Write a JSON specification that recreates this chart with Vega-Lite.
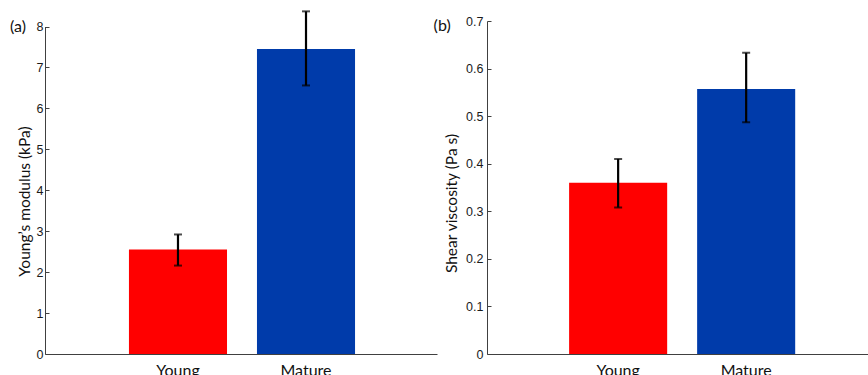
{
  "$schema": "https://vega.github.io/schema/vega-lite/v6.json",
  "background": "white",
  "padding": {"left": 10, "top": 10, "right": 0, "bottom": 0},
  "bounds": "flush",
  "spacing": 50,
  "config": {"view": {"stroke": null}},
  "datasets": {
    "a": [
      {"group": "Young", "value": 2.55, "lo": 2.16, "hi": 2.92},
      {"group": "Mature", "value": 7.45, "lo": 6.56, "hi": 8.37}
    ],
    "b": [
      {"group": "Young", "value": 0.36, "lo": 0.308, "hi": 0.41},
      {"group": "Mature", "value": 0.557, "lo": 0.487, "hi": 0.633}
    ]
  },
  "hconcat": [
    {
      "width": 392,
      "height": 333,
      "data": {"name": "a"},
      "title": {"text": "(a)", "anchor": "start", "frame": "bounds", "offset": 0, "dy": 25, "dx": -7, "font": "Lato", "fontSize": 16, "fontWeight": "normal", "color": "#111111"},
      "encoding": {
        "x": {
          "field": "group", "type": "nominal", "sort": ["Young", "Mature"],
          "scale": {"paddingInner": 0.234, "paddingOuter": 0.648, "align": 0.506},
          "axis": {"title": null, "ticks": false, "labelAngle": 0, "labelFont": "Lato", "labelFontSize": 16, "labelColor": "#111111", "labelPadding": 8, "domainColor": "#404040", "domainWidth": 1}
        }
      },
      "layer": [
        {
          "mark": {"type": "bar"},
          "encoding": {
            "y": {
              "field": "value", "type": "quantitative",
              "scale": {"domain": [0, 8], "range": [333, 5.5], "nice": false},
              "axis": {"title": "Young’s modulus (kPa)", "values": [0, 1, 2, 3, 4, 5, 6, 7, 8], "grid": false, "tickSize": -4, "labelPadding": 6, "domainColor": "#404040", "tickColor": "#404040", "labelFont": "Liberation Sans", "labelFontSize": 12.5, "labelColor": "#1a1a1a", "titleFont": "Lato", "titleFontSize": 15.5, "titleFontWeight": "normal", "titleColor": "#111111", "titlePadding": 4, "titleY": 180}
            },
            "color": {"field": "group", "type": "nominal", "scale": {"domain": ["Young", "Mature"], "range": ["#FF0000", "#003BAA"]}, "legend": null}
          }
        },
        {
          "mark": {"type": "errorbar", "color": "black", "ticks": {"size": 8, "thickness": 2, "color": "black"}, "rule": {"strokeWidth": 2.2}},
          "encoding": {
            "y": {"field": "lo", "type": "quantitative", "title": "Young’s modulus (kPa)"},
            "y2": {"field": "hi"}
          }
        }
      ]
    },
    {
      "width": 381,
      "height": 333,
      "data": {"name": "b"},
      "title": {"text": "(b)", "anchor": "start", "frame": "bounds", "offset": 0, "dy": 19, "dx": -11, "font": "Lato", "fontSize": 16, "fontWeight": "normal", "color": "#111111"},
      "encoding": {
        "x": {
          "field": "group", "type": "nominal", "sort": ["Young", "Mature"],
          "scale": {"paddingInner": 0.234, "paddingOuter": 0.605, "align": 0.53},
          "axis": {"title": null, "ticks": false, "labelAngle": 0, "labelFont": "Lato", "labelFontSize": 16, "labelColor": "#111111", "labelPadding": 8, "domainColor": "#404040", "domainWidth": 1}
        }
      },
      "layer": [
        {
          "mark": {"type": "bar"},
          "encoding": {
            "y": {
              "field": "value", "type": "quantitative",
              "scale": {"domain": [0, 0.7], "nice": false},
              "axis": {"title": "Shear viscosity (Pa s)", "values": [0, 0.1, 0.2, 0.3, 0.4, 0.5, 0.6, 0.7], "format": ".1~f", "grid": false, "tickSize": -4, "labelPadding": 8, "domainColor": "#404040", "tickColor": "#404040", "labelFont": "Liberation Sans", "labelFontSize": 12.5, "labelColor": "#1a1a1a", "titleFont": "Lato", "titleFontSize": 15.5, "titleFontWeight": "normal", "titleColor": "#111111", "titlePadding": 6, "titleY": 182}
            },
            "color": {"field": "group", "type": "nominal", "scale": {"domain": ["Young", "Mature"], "range": ["#FF0000", "#003BAA"]}, "legend": null}
          }
        },
        {
          "mark": {"type": "errorbar", "color": "black", "ticks": {"size": 8, "thickness": 2, "color": "black"}, "rule": {"strokeWidth": 2.2}},
          "encoding": {
            "y": {"field": "lo", "type": "quantitative", "title": "Shear viscosity (Pa s)"},
            "y2": {"field": "hi"}
          }
        }
      ]
    }
  ]
}
